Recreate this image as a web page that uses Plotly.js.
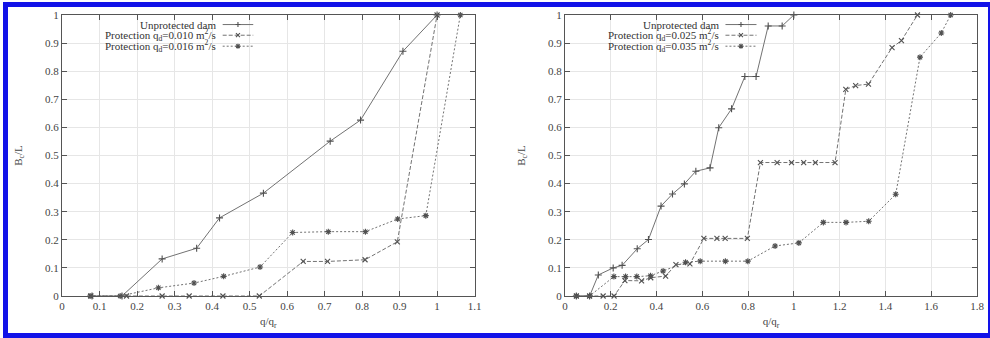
<!DOCTYPE html>
<html>
<head>
<meta charset="utf-8">
<script src="https://cdn.plot.ly/plotly-3.0.1.min.js"></script>
<style>
html,body{margin:0;padding:0;background:#fff;}
#wrap{position:relative;width:990px;height:338px;overflow:hidden;}
#chart{position:absolute;left:0;top:0;width:990px;height:338px;}
#frame{position:absolute;left:3px;top:2px;width:990px;height:336px;box-sizing:border-box;border:5px solid #1212e8;pointer-events:none;}
</style>
</head>
<body>
<div id="wrap"><div id="chart"></div><div id="frame"></div></div>
<script>
// ---- Left panel data ----
const leftUnprotX = [0.08, 0.16, 0.267, 0.359, 0.42, 0.537, 0.715, 0.796, 0.909, 1.0];
const leftUnprotY = [0, 0, 0.132, 0.17, 0.278, 0.366, 0.551, 0.626, 0.871, 1.0];
const leftP010X = [0.077, 0.172, 0.267, 0.339, 0.429, 0.526, 0.643, 0.708, 0.808, 0.894, 1.0];
const leftP010Y = [0, 0, 0, 0, 0, 0, 0.123, 0.123, 0.129, 0.193, 1.0];
const leftP016X = [0.075, 0.155, 0.257, 0.352, 0.431, 0.528, 0.615, 0.71, 0.809, 0.895, 0.97, 1.062];
const leftP016Y = [0, 0, 0.029, 0.046, 0.07, 0.103, 0.226, 0.229, 0.229, 0.274, 0.286, 1.0];

// ---- Right panel data ----
const rightUnprotX = [0.05, 0.108, 0.146, 0.211, 0.25, 0.316, 0.365, 0.42, 0.47, 0.522, 0.572, 0.634, 0.672, 0.728, 0.786, 0.835, 0.888, 0.949, 1.0];
const rightUnprotY = [0, 0, 0.075, 0.1, 0.109, 0.168, 0.201, 0.32, 0.363, 0.399, 0.444, 0.456, 0.599, 0.666, 0.781, 0.781, 0.961, 0.961, 1.0];
const rightP025X = [0.05, 0.108, 0.167, 0.215, 0.262, 0.335, 0.375, 0.44, 0.485, 0.546, 0.607, 0.664, 0.7, 0.797, 0.854, 0.927, 0.99, 1.043, 1.094, 1.18, 1.227, 1.27, 1.326, 1.429, 1.47, 1.54];
const rightP025Y = [0, 0, 0, 0, 0.055, 0.054, 0.065, 0.071, 0.112, 0.114, 0.205, 0.205, 0.205, 0.205, 0.475, 0.475, 0.475, 0.475, 0.475, 0.475, 0.735, 0.749, 0.754, 0.884, 0.909, 1.0];
const rightP035X = [0.05, 0.108, 0.214, 0.265, 0.314, 0.374, 0.429, 0.527, 0.591, 0.701, 0.799, 0.918, 1.022, 1.129, 1.228, 1.327, 1.445, 1.551, 1.644, 1.685];
const rightP035Y = [0, 0, 0.069, 0.069, 0.069, 0.072, 0.089, 0.12, 0.124, 0.124, 0.124, 0.178, 0.189, 0.262, 0.262, 0.266, 0.362, 0.85, 0.936, 1.0];

// ---- Labels ----
const leftLegend = ['Unprotected dam', 'Protection q<sub>d</sub>=0.010 m<sup>2</sup>/s', 'Protection q<sub>d</sub>=0.016 m<sup>2</sup>/s'];
const rightLegend = ['Unprotected dam', 'Protection q<sub>d</sub>=0.025 m<sup>2</sup>/s', 'Protection q<sub>d</sub>=0.035 m<sup>2</sup>/s'];
const xTitle = 'q/q<sub>r</sub>';
const yTitle = 'B<sub>c</sub>/L';

const FONT = "'Liberation Serif', 'Times New Roman', serif";
const LINEC = '#727272';
const MARKC = '#505050';
const styles = [
  {dash: 'solid', symbol: 'cross-thin', size: 5},
  {dash: '4px,2px', symbol: 'x-thin', size: 5},
  {dash: '2px,2px', symbol: 'asterisk', size: 5}
];

function tr(x, y, i, xa, ya) {
  const s = styles[i];
  return {
    x: x, y: y, xaxis: xa, yaxis: ya, type: 'scatter', mode: 'lines+markers',
    showlegend: false, cliponaxis: false,
    line: {color: LINEC, width: 1, dash: s.dash},
    marker: {symbol: s.symbol, size: s.size, color: MARKC, line: {color: MARKC, width: 1.1}}
  };
}

const data = [
  tr(leftUnprotX, leftUnprotY, 0, 'x', 'y'),
  tr(leftP010X, leftP010Y, 1, 'x', 'y'),
  tr(leftP016X, leftP016Y, 2, 'x', 'y'),
  tr(rightUnprotX, rightUnprotY, 0, 'x2', 'y2'),
  tr(rightP025X, rightP025Y, 1, 'x2', 'y2'),
  tr(rightP035X, rightP035Y, 2, 'x2', 'y2')
];

function axis(extra) {
  return Object.assign({
    showgrid: true, gridcolor: '#e6e6e6', gridwidth: 1,
    zeroline: false, showline: true, linecolor: '#555', linewidth: 1,
    mirror: 'ticks', ticks: 'inside', ticklen: 5, tickcolor: '#555', tickwidth: 1,
    tickfont: {family: FONT, size: 11, color: '#444'},
    fixedrange: true
  }, extra);
}

// legend (drawn as layout text + shapes, paper coords)
const annotations = [];
const shapes = [];
const rowsY = [0.966, 0.928, 0.889];
const markerPaths = [
  'M-2.5,0 L2.5,0 M0,-2.5 L0,2.5',
  'M-2,-2 L2,2 M-2,2 L2,-2',
  'M-2.5,0 L2.5,0 M0,-2.5 L0,2.5 M-1.8,-1.8 L1.8,1.8 M-1.8,1.8 L1.8,-1.8'
];
function legendBlock(labels, textX, x0, x1) {
  labels.forEach((t, i) => {
    annotations.push({xref: 'paper', yref: 'paper', x: textX, y: rowsY[i], text: t,
      showarrow: false, xanchor: 'right', yanchor: 'middle', borderpad: 0,
      font: {family: FONT, size: 11, color: '#333'}});
    shapes.push({type: 'line', xref: 'paper', yref: 'paper', x0: x0, x1: x1, y0: rowsY[i], y1: rowsY[i],
      line: {color: LINEC, width: 1, dash: i === 0 ? 'solid' : (i === 1 ? '4px,2px' : '2px,2px')}});
    shapes.push({type: 'path', xref: 'paper', yref: 'paper', xsizemode: 'pixel', ysizemode: 'pixel',
      xanchor: (x0 + x1) / 2, yanchor: rowsY[i], path: markerPaths[i],
      line: {color: MARKC, width: 1.1}});
  });
}
legendBlock(leftLegend, 0.1690, 0.1756, 0.2090);
legendBlock(rightLegend, 0.7189, 0.7251, 0.7590);

const layout = {
  width: 990, height: 338,
  margin: {l: 62, r: 12.7, t: 14.7, b: 41.7, pad: 0},
  paper_bgcolor: 'rgba(0,0,0,0)', plot_bgcolor: '#fff',
  showlegend: false,
  font: {family: FONT, size: 11, color: '#444'},
  xaxis: axis({domain: [0, 0.4509], range: [0, 1.1], dtick: 0.1, tick0: 0, anchor: 'y',
    title: {text: xTitle, font: {family: FONT, size: 11, color: '#444'}, standoff: 6}}),
  yaxis: axis({domain: [0, 1], range: [0, 1], dtick: 0.1, tick0: 0, anchor: 'x',
    title: {text: yTitle, font: {family: FONT, size: 11, color: '#444'}, standoff: 20}}),
  xaxis2: axis({domain: [0.5496, 1], range: [0, 1.8], dtick: 0.2, tick0: 0, anchor: 'y2',
    title: {text: xTitle, font: {family: FONT, size: 11, color: '#444'}, standoff: 6}}),
  yaxis2: axis({domain: [0, 1], range: [0, 1], dtick: 0.1, tick0: 0, anchor: 'x2',
    title: {text: yTitle, font: {family: FONT, size: 11, color: '#444'}, standoff: 20}}),
  annotations: annotations,
  shapes: shapes
};

Plotly.newPlot('chart', data, layout, {staticPlot: true, displayModeBar: false});
</script>
</body>
</html>
